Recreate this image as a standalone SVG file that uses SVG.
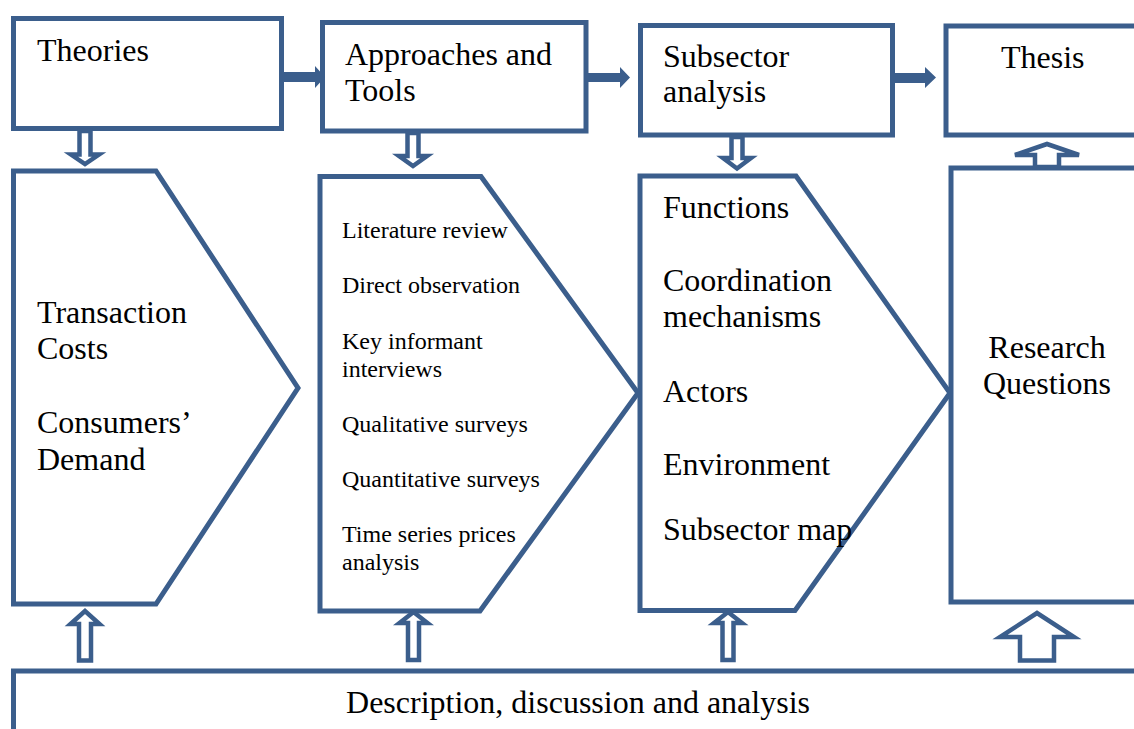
<svg xmlns="http://www.w3.org/2000/svg" width="1134" height="729" viewBox="0 0 1134 729">
<style>
.b{fill:#fff;stroke:#3B5E8C;stroke-width:5;stroke-linejoin:miter}
.h{fill:#fff;stroke:#3B5E8C;stroke-width:4.5;stroke-linejoin:miter}
.s{fill:#3B5E8C;stroke:none}
text{font-family:"Liberation Serif","Times New Roman",serif;fill:#000}
.L{font-size:32px}
.S{font-size:24px}
</style>
<rect width="1134" height="729" fill="#fff"/>
<g id="theories">
<rect class="b" x="13.5" y="18.5" width="268" height="110"/>
<text class="L" x="37" y="61">Theories</text>
</g>
<g id="approaches">
<rect class="b" x="322.5" y="22.5" width="263.5" height="108.5"/>
<text class="L" x="345" y="65">Approaches and</text>
<text class="L" x="345" y="101">Tools</text>
</g>
<g id="subsector">
<rect class="b" x="640.5" y="25.5" width="252" height="109.5"/>
<text class="L" x="663" y="67">Subsector</text>
<text class="L" x="663" y="102">analysis</text>
</g>
<g id="thesis">
<rect class="b" x="946" y="26" width="250" height="109"/>
<text class="L" x="1001" y="68">Thesis</text>
</g>
<g id="theories-content">
<path class="b" d="M13.5,171 H156 L298,388 L156,604 H13.5 Z"/>
<text class="L" x="37" y="323">Transaction</text>
<text class="L" x="37" y="359">Costs</text>
<text class="L" x="37" y="433">Consumers’</text>
<text class="L" x="37" y="470">Demand</text>
</g>
<g id="approaches-content">
<path class="b" d="M320,176.5 H481 L638,393 L480,611 H320 Z"/>
<text class="S" x="342" y="238">Literature review</text>
<text class="S" x="342" y="293">Direct observation</text>
<text class="S" x="342" y="349">Key informant</text>
<text class="S" x="342" y="377">interviews</text>
<text class="S" x="342" y="432">Qualitative surveys</text>
<text class="S" x="342" y="487">Quantitative surveys</text>
<text class="S" x="342" y="542">Time series prices</text>
<text class="S" x="342" y="570">analysis</text>
</g>
<g id="subsector-content">
<path class="b" d="M640,176 H796 L950,393 L795,610.5 H640 Z"/>
<text class="L" x="663" y="218">Functions</text>
<text class="L" x="663" y="291">Coordination</text>
<text class="L" x="663" y="327">mechanisms</text>
<text class="L" x="663" y="402">Actors</text>
<text class="L" x="663" y="475">Environment</text>
<text class="L" x="663" y="540">Subsector map</text>
</g>
<g id="research">
<rect class="b" x="951" y="168" width="250" height="434"/>
<text class="L" x="1047" y="358" text-anchor="middle">Research</text>
<text class="L" x="1047" y="394" text-anchor="middle">Questions</text>
</g>
<g id="description">
<rect class="b" x="13.5" y="671" width="1200" height="100"/>
<text class="L" x="578" y="713" text-anchor="middle">Description, discussion and analysis</text>
</g>
<g id="connectors">
<path class="s" d="M284,72 H315 V66 L325,77 L315,88 V82 H284 Z"/>
<path class="s" d="M588,73 H620 V67 L630,77.5 L620,88 V82 H588 Z"/>
<path class="s" d="M895,73 H925 V67 L936,77.5 L925,88 V83 H895 Z"/>
<path class="h" d="M79.5,131 V154.5 H71 L85,164 L99,154.5 H90.5 V131 Z"/>
<path class="h" d="M407.5,133 V156 H399 L413,166 L427,156 H418.5 V133 Z"/>
<path class="h" d="M731.5,137 V158 H723 L737,168.5 L751,158 H742.5 V137 Z"/>
<path class="h" d="M1035,167 V155 H1015 L1047,144 L1079,155 H1059 V167 Z"/>
<path class="h" d="M79,660.5 V624 H70.5 L85,611 L99.5,624 H91 V660.5 Z"/>
<path class="h" d="M408,660 V623 H399.5 L413.5,612 L427.5,623 H419 V660 Z"/>
<path class="h" d="M722.5,660 V623 H714 L728,612 L742,623 H733.5 V660 Z"/>
<path class="h" d="M1020,660.5 V637 H1000 L1037,613 L1074,637 H1054 V660.5 Z"/>
</g>
</svg>
